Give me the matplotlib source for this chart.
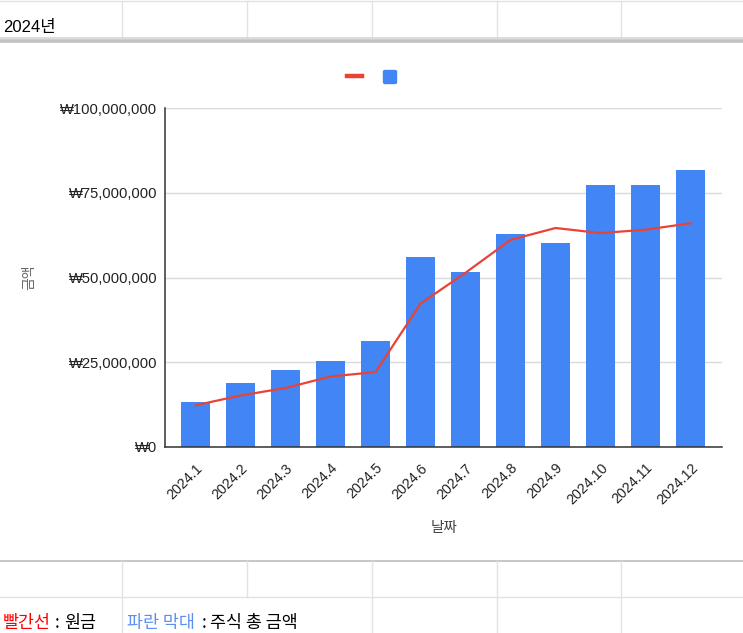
import matplotlib
matplotlib.use("Agg")
import matplotlib.pyplot as plt
from matplotlib.lines import Line2D
from matplotlib.patches import FancyBboxPatch
from matplotlib.ticker import FuncFormatter, MultipleLocator

months = ["2024.1", "2024.2", "2024.3", "2024.4", "2024.5", "2024.6",
          "2024.7", "2024.8", "2024.9", "2024.10", "2024.11", "2024.12"]
stock_total = [13.4e6, 18.8e6, 22.6e6, 25.4e6, 31.2e6, 55.9e6,
               51.5e6, 62.8e6, 60.3e6, 77.4e6, 77.4e6, 81.8e6]
principal = [12.3e6, 15.2e6, 17.4e6, 20.8e6, 22.1e6, 42.3e6,
             51.4e6, 61.1e6, 64.6e6, 63.1e6, 64.1e6, 66.0e6]

FONT = ["Liberation Sans", "Noto Sans CJK KR", "DejaVu Sans"]
KFONT = ["Noto Sans CJK KR", "Liberation Sans", "DejaVu Sans"]
plt.rcParams["font.family"] = FONT

W, H = 743, 633
fig = plt.figure(figsize=(W / 100, H / 100), dpi=100)
fig.patch.set_facecolor("white")

def px(x, y):
    return x / W, 1 - y / H

def hline(y, x0, x1, color, lw):
    (a, b), (c, d) = px(x0, y), px(x1, y)
    fig.add_artist(Line2D([a, c], [b, d], color=color, lw=lw, transform=fig.transFigure))

def vline(x, y0, y1, color, lw):
    (a, b), (c, d) = px(x, y0), px(x, y1)
    fig.add_artist(Line2D([a, c], [b, d], color=color, lw=lw, transform=fig.transFigure))

# spreadsheet grid decoration
cols = [122, 247, 372, 497, 621]
hline(1, 0, W, "#e2e2e2", 1.0)
for cx in cols:
    vline(cx, 1, 37, "#e2e2e2", 1.0)
hline(38.2, 0, W, "#d6d6d6", 1.2)
hline(40.5, 0, W, "#c2c2c2", 2.6)
hline(561, 0, W, "#bdbdbd", 1.2)
hline(597, 0, W, "#e2e2e2", 1.0)
for cx in cols:
    vline(cx, 561, 597, "#e2e2e2", 1.0)
for cx in [122, 372, 497, 621]:
    vline(cx, 597, H, "#e2e2e2", 1.0)

x, y = px(3, 32)
fig.text(x, y, "2024년", fontsize=12, color="black", va="baseline", ha="left",
         family=FONT)

# bottom notes
def note(xp, s, color):
    x, y = px(xp, 628)
    fig.text(x, y, s, fontsize=12.5, color=color, va="baseline", ha="left", family=KFONT)

note(3, "빨간선", "#ff0000")
note(55, ":", "black")
note(64, "원금", "black")
note(127, "파란 막대", "#5b8ff0")
note(202, ":", "black")
note(210, "주식 총 금액", "black")

# chart
left, right, top, bottom = 165, 722, 108, 447
ax = fig.add_axes([left / W, 1 - bottom / H, (right - left) / W, (bottom - top) / H])
pos = list(range(len(months)))
bars = ax.bar(pos, stock_total, width=0.66, color="#4285f4", zorder=2)
ax.plot(pos, principal, color="#ea4335", lw=1.6, zorder=3)

ax.set_xlim(-0.68, len(months) - 1 + 0.7)
ax.set_ylim(0, 100e6)
ax.yaxis.set_major_locator(MultipleLocator(25e6))
ax.yaxis.set_major_formatter(FuncFormatter(lambda v, p: "₩{:,.0f}".format(v)))
ax.grid(axis="y", color="#dadada", lw=1.0, zorder=0)
ax.set_axisbelow(True)
for s in ["top", "right"]:
    ax.spines[s].set_visible(False)
for s in ["left", "bottom"]:
    ax.spines[s].set_color("#333333")
    ax.spines[s].set_linewidth(1.1)
    ax.spines[s].set_zorder(4)
ax.tick_params(axis="both", length=0, colors="#222222")
ax.tick_params(axis="y", pad=5.5, labelsize=10.6)
ax.set_xticks(pos)
ax.set_xticklabels(months, rotation=45, ha="right", rotation_mode="anchor")
ax.tick_params(axis="x", pad=10, labelsize=10.3)
ax.set_xlabel("날짜", fontsize=10.5, color="#444444", labelpad=10, family=KFONT)
ax.set_ylabel("금액", fontsize=10, color="#666666", labelpad=17, family=KFONT)

# legend markers (no text)
fig.add_artist(Line2D([347 / W, 362 / W], [1 - 76 / H] * 2, color="#ea4335", lw=3.2,
                      transform=fig.transFigure))
fig.add_artist(FancyBboxPatch((383.5 / W, 1 - 83.5 / H), 13 / W, 13 / H,
                              boxstyle="round,pad=0,rounding_size=0.002",
                              color="#4285f4", transform=fig.transFigure))

fig.savefig("out.png", dpi=100, facecolor="white")
